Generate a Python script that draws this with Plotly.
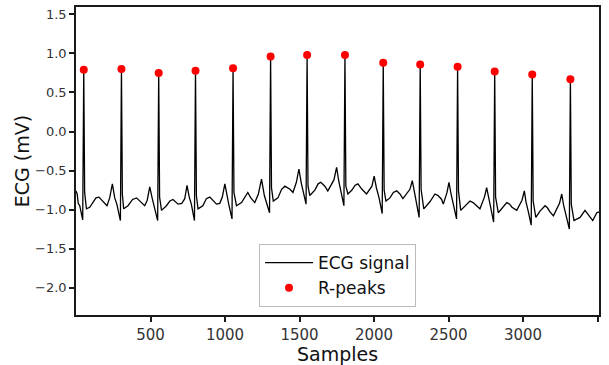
import plotly.graph_objects as go

# ECG trace: key points (sample index, mV)
ecg_samples = [
    0, 8, 15, 25, 45, 52,
    58, 70, 92, 114, 134, 154, 181, 208, 226, 244, 260, 274, 298, 305,
    311, 320, 349, 380, 406, 439, 461, 478, 495, 512, 522, 548, 555,
    561, 574, 607, 630, 651, 685, 710, 730, 745, 760, 774, 795, 802,
    808, 819, 851, 875, 898, 943, 965, 982, 999, 1012, 1025, 1047, 1054,
    1060, 1077, 1111, 1144, 1153, 1173, 1200, 1224, 1245, 1264, 1280, 1299, 1306,
    1312, 1324, 1355, 1380, 1402, 1436, 1456, 1479, 1496, 1512, 1526, 1544, 1551,
    1557, 1569, 1603, 1625, 1643, 1670, 1690, 1731, 1749, 1764, 1782, 1798, 1805,
    1811, 1825, 1852, 1872, 1892, 1919, 1950, 1986, 2001, 2016, 2034, 2055, 2062,
    2068, 2080, 2107, 2130, 2152, 2174, 2194, 2241, 2257, 2268, 2282, 2303, 2310,
    2316, 2334, 2375, 2409, 2430, 2454, 2465, 2490, 2503, 2517, 2536, 2554, 2561,
    2567, 2582, 2610, 2644, 2665, 2689, 2711, 2741, 2756, 2771, 2786, 2803, 2810,
    2816, 2834, 2866, 2891, 2910, 2926, 2958, 2993, 3009, 3020, 3036, 3055, 3062,
    3068, 3086, 3114, 3148, 3165, 3181, 3204, 3245, 3260, 3272, 3290, 3311, 3318,
    3324, 3342, 3383, 3416, 3450, 3468, 3495, 3510,
]
ecg_values = [
    -0.76, -0.80, -0.92, -0.95, -1.13, 0.79,
    -0.78, -0.99, -0.97, -0.91, -0.85, -0.84, -0.89, -0.95, -0.85, -0.67, -0.85, -0.93, -1.14, 0.80,
    -0.80, -0.99, -0.95, -0.87, -0.85, -0.91, -0.95, -0.88, -0.71, -0.86, -0.95, -1.14, 0.75,
    -0.84, -1.01, -0.95, -0.89, -0.87, -0.93, -0.92, -0.86, -0.69, -0.84, -0.93, -1.14, 0.78,
    -0.82, -0.99, -0.95, -0.86, -0.84, -0.93, -0.92, -0.84, -0.67, -0.82, -0.93, -1.12, 0.81,
    -0.78, -0.95, -0.91, -0.82, -0.78, -0.85, -0.91, -0.80, -0.61, -0.82, -0.92, -1.04, 0.96,
    -0.72, -0.89, -0.85, -0.74, -0.70, -0.74, -0.78, -0.65, -0.48, -0.66, -0.80, -0.93, 0.98,
    -0.70, -0.82, -0.75, -0.67, -0.65, -0.70, -0.76, -0.62, -0.46, -0.64, -0.80, -0.95, 0.98,
    -0.70, -0.80, -0.75, -0.69, -0.67, -0.74, -0.80, -0.70, -0.57, -0.72, -0.85, -1.05, 0.88,
    -0.75, -0.89, -0.85, -0.78, -0.76, -0.80, -0.86, -0.74, -0.63, -0.75, -0.90, -1.10, 0.86,
    -0.74, -0.99, -0.90, -0.80, -0.82, -0.87, -0.93, -0.78, -0.65, -0.80, -0.97, -1.12, 0.83,
    -0.76, -1.01, -0.95, -0.89, -0.91, -0.95, -0.99, -0.84, -0.72, -0.86, -0.99, -1.16, 0.77,
    -0.84, -1.04, -0.97, -0.91, -0.93, -0.97, -1.01, -0.88, -0.76, -0.90, -1.03, -1.20, 0.73,
    -0.89, -1.10, -1.02, -0.95, -0.98, -1.03, -1.08, -0.92, -0.80, -0.94, -1.08, -1.25, 0.67,
    -0.93, -1.14, -1.10, -1.01, -1.10, -1.14, -1.04, -1.03,
]

# Detected R-peaks
rpeak_samples = [52, 305, 555, 802, 1054, 1306, 1551, 1805, 2062, 2310, 2561, 2810, 3062, 3318]
rpeak_values = [0.79, 0.80, 0.75, 0.78, 0.81, 0.96, 0.98, 0.98, 0.88, 0.86, 0.83, 0.77, 0.73, 0.67]

x_ticks = [500, 1000, 1500, 2000, 2500, 3000, 3500]
y_ticks = [1.5, 1.0, 0.5, 0.0, -0.5, -1.0, -1.5, -2.0]

FONT = "DejaVu Sans"

fig = go.Figure()
fig.add_trace(go.Scatter(
    x=ecg_samples, y=ecg_values, mode="lines", name="ECG signal",
    line=dict(color="black", width=1.3),
))
fig.add_trace(go.Scatter(
    x=rpeak_samples, y=rpeak_values, mode="markers", name="R-peaks",
    marker=dict(color="red", size=8),
))

axis_common = dict(
    showgrid=False, zeroline=False, showline=True, mirror=True,
    linecolor="#1a1a1a", linewidth=1.5, ticks="outside", ticklen=5,
    tickwidth=1.5, tickcolor="#1a1a1a",
)

fig.update_layout(
    width=609, height=365,
    margin=dict(l=76, r=10, t=5, b=50),
    paper_bgcolor="white", plot_bgcolor="white",
    font=dict(family=FONT),
    showlegend=True,
    legend=dict(
        x=0.5, y=0.026, xanchor="center", yanchor="bottom",
        bgcolor="white", bordercolor="#bbbbbb", borderwidth=1,
        font=dict(family=FONT, size=17, color="#111111"),
        itemwidth=48,
    ),
    xaxis=dict(
        range=[0, 3510], tickvals=x_ticks,
        tickfont=dict(family=FONT, size=15, color="#333333"),
        title=dict(text="Samples", font=dict(family=FONT, size=19, color="#111111"), standoff=3),
        **axis_common,
    ),
    yaxis=dict(
        range=[-2.35, 1.595], tickvals=y_ticks, tickformat=".1f",
        tickfont=dict(family=FONT, size=13, color="#333333"),
        title=dict(text="ECG (mV)", font=dict(family=FONT, size=19, color="#111111"), standoff=0),
        **axis_common,
    ),
    hovermode=False,
)

fig.write_html(
    "out.html",
    config={"displayModeBar": False},
    post_script="document.body.style.margin='0px';",
)
